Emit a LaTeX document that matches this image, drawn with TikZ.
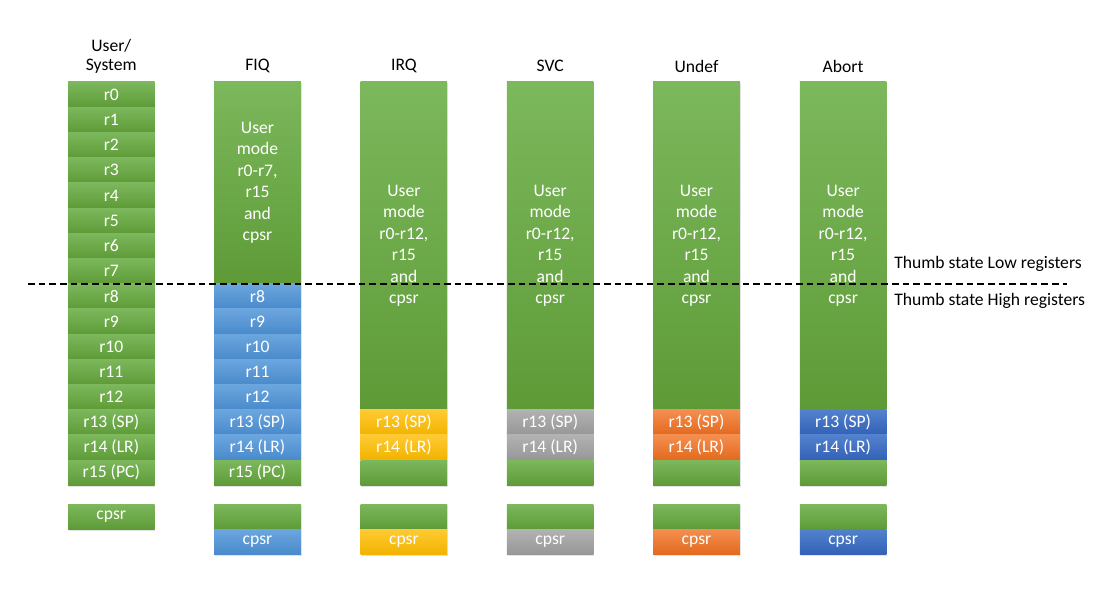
\documentclass[tikz,border=0pt]{standalone}
\usepackage{fontspec}
\setmainfont{Carlito}
\usepackage{tikz}
\usetikzlibrary{shadows}

\definecolor{grnTop}{HTML}{7CB85C}
\definecolor{grnBot}{HTML}{5E9B37}
\definecolor{bluTop}{HTML}{6BA6DE}
\definecolor{bluBot}{HTML}{4A8ACB}
\definecolor{golTop}{HTML}{FFCA33}
\definecolor{golBot}{HTML}{F2B300}
\definecolor{gryTop}{HTML}{B2B2B2}
\definecolor{gryBot}{HTML}{979797}
\definecolor{orgTop}{HTML}{F48F50}
\definecolor{orgBot}{HTML}{E3691D}
\definecolor{dbuTop}{HTML}{5282CE}
\definecolor{dbuBot}{HTML}{3361B6}

\tikzset{
	reg/.style={minimum width=64.9pt, minimum height=18.9pt, inner sep=0pt,
		text=white, font=\fontsize{13.2}{16.1}\selectfont, align=center,
		drop shadow={shadow xshift=0.6pt, shadow yshift=-1pt, opacity=0.22}},
	usr/.style={reg, top color=grnTop, bottom color=grnBot},
	fiq/.style={reg, top color=bluTop, bottom color=bluBot},
	irq/.style={reg, top color=golTop, bottom color=golBot},
	svc/.style={reg, top color=gryTop, bottom color=gryBot},
	und/.style={reg, top color=orgTop, bottom color=orgBot},
	abt/.style={reg, top color=dbuTop, bottom color=dbuBot},
	hdr/.style={font=\fontsize{13.2}{14.3}\selectfont, align=center, inner sep=0pt},
	thumb/.style={font=\fontsize{13.2}{16}\selectfont, anchor=west, inner sep=0pt},
	thumbline/.style={line width=1pt, dash pattern=on 5pt off 3pt}
}

\begin{document}
\begin{tikzpicture}[x=0.75pt, y=-0.75pt]
	\useasboundingbox (0,0) rectangle (1120,592);

	% headers
	\node[hdr] (husr) at (111.3,56.5) {User/\\System};
	\node[hdr] (hfiq) at (257.5,66) {FIQ};

	% User/System
	\foreach \i in {0,...,12}
		\node[usr] (us\i) at (111.3,94.6+25.2*\i) {r\i};
	\node[usr] (us13) at (111.3,422.2) {r13 (SP)};
	\node[usr] (us14) at (111.3,447.4) {r14 (LR)};
	\node[usr] (us15) at (111.3,472.6) {r15 (PC)};
	\node[usr] (uscpsr) at (111.3,516.6) {cpsr};

	% FIQ
	\node[usr, minimum height=151.2pt] (fqlow) at (257.5,182.8)
		{User\\mode\\r0-r7,\\r15\\and\\cpsr};
	\foreach \i in {8,...,12}
		\node[fiq] (fq\i) at (257.5,94.6+25.2*\i) {r\i};
	\node[fiq] (fq13) at (257.5,422.2) {r13 (SP)};
	\node[fiq] (fq14) at (257.5,447.4) {r14 (LR)};
	\node[usr] (fq15) at (257.5,472.6) {r15 (PC)};
	\node[usr] (fqcpsr) at (257.5,516.6) {};
	\node[fiq] (fqspsr) at (257.5,541.8) {cpsr};

	% IRQ, SVC, Undef, Abort
	\foreach \x/\m/\s in {403.9/IRQ/irq, 550.2/SVC/svc, 696.5/Undef/und, 843.1/Abort/abt}{
		\node[hdr] (h\s) at (\x,66) {\m};
		\node[usr, minimum height=245.7pt] (\s low) at (\x,245.8)
			{User\\mode\\r0-r12,\\r15\\and\\cpsr};
		\node[\s] (\s13) at (\x,422.2) {r13 (SP)};
		\node[\s] (\s14) at (\x,447.4) {r14 (LR)};
		\node[usr] (\s15) at (\x,472.6) {};
		\node[usr] (\s cpsr) at (\x,516.6) {};
		\node[\s] (\s spsr) at (\x,541.8) {cpsr};
	}

	% thumb state split
	\coordinate (dl) at (28,284);
	\coordinate (dr) at (1067,284);
	\draw[thumbline] (dl) -- (dr);
	\node[thumb] (tlow) at (894,264) {Thumb state Low registers};
	\node[thumb] (thigh) at (894,301) {Thumb state High registers};
\end{tikzpicture}
\end{document}
